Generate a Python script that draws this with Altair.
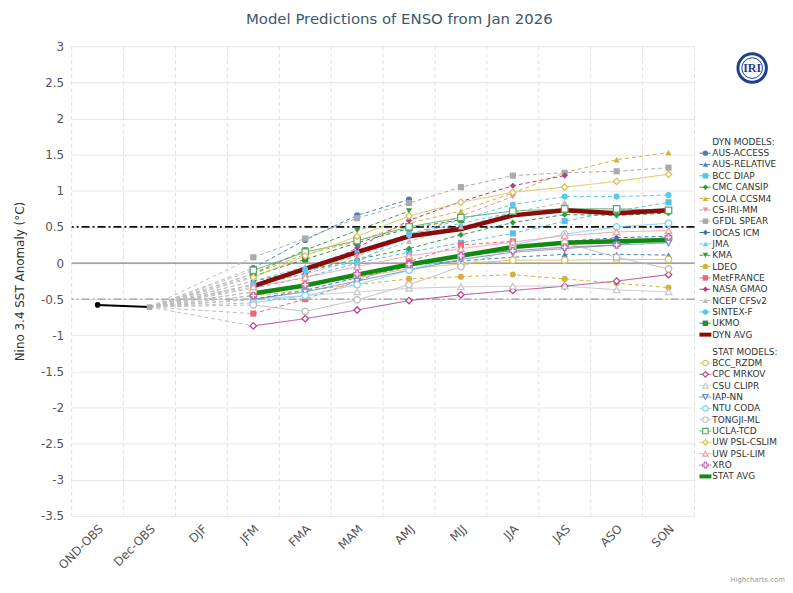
import altair as alt
import pandas as pd

seasons = ["OND-OBS", "Dec-OBS", "DJF", "JFM", "FMA", "MAM", "AMJ", "MJJ", "JJA", "JAS", "ASO", "SON"]
forecast_seasons = ["JFM", "FMA", "MAM", "AMJ", "MJJ", "JJA", "JAS", "ASO", "SON"]
obs_seasons = ["OND-OBS", "Dec-OBS"]
obs_values = [-0.58, -0.61]

# ---- dynamical models (JFM ... SON) ----
aus_access   = [-0.07, 0.32, 0.66, 0.88, None, None, None, None, None]
aus_relative = [-0.40, -0.30, -0.15, -0.03, 0.03, 0.08, 0.12, 0.12, 0.11]
bcc_diap     = [-0.35, -0.20, 0.00, 0.15, 0.28, 0.41, 0.58, 0.72, 0.84]
cmc_cansip   = [-0.25, -0.10, 0.05, 0.20, 0.39, 0.56, 0.67, 0.66, 0.69]
cola_ccsm4   = [-0.15, 0.12, 0.30, 0.55, 0.72, 0.97, 1.25, 1.43, 1.53]
cs_iri_mm    = [-0.30, -0.10, 0.10, 0.35, 0.65, 0.92, None, None, None]
gfdl_spear   = [0.08, 0.34, 0.62, 0.83, 1.05, 1.21, 1.25, 1.27, 1.32]
iocas_icm    = [-0.50, -0.38, -0.20, -0.05, 0.10, 0.22, 0.30, 0.35, 0.37]
jma          = [-0.25, -0.05, 0.18, 0.40, 0.55, 0.70, None, None, None]
kma          = [-0.15, 0.18, 0.45, 0.72, None, None, None, None, None]
ldeo         = [-0.45, -0.38, -0.30, -0.22, -0.19, -0.16, -0.22, -0.28, -0.34]
metfrance    = [-0.70, -0.50, -0.25, 0.02, 0.25, 0.30, None, None, None]
nasa_gmao    = [-0.30, -0.15, 0.21, 0.59, 0.85, 1.07, 1.21, None, None]
ncep_cfsv2   = [-0.30, -0.15, 0.05, 0.30, 0.50, 0.70, 0.84, None, None]
sintex_f     = [-0.30, -0.10, 0.01, 0.40, 0.60, 0.81, 0.92, 0.92, 0.94]
ukmo         = [-0.18, 0.05, 0.28, 0.48, 0.60, None, None, None, None]
dyn_avg      = [-0.32, -0.08, 0.15, 0.37, 0.47, 0.66, 0.73, 0.69, 0.73]

# ---- statistical models (JFM ... SON) ----
bcc_rzdm     = [-0.40, -0.30, -0.20, -0.08, -0.01, 0.04, 0.04, 0.05, 0.05]
cpc_mrkov    = [-0.87, -0.77, -0.65, -0.52, -0.44, -0.38, -0.32, -0.25, -0.16]
csu_clipr    = [-0.50, -0.45, -0.40, -0.35, -0.33, -0.32, -0.32, -0.37, -0.40]
iap_nn       = [-0.50, -0.40, -0.25, -0.10, 0.05, 0.15, 0.20, 0.25, 0.28]
ntu_coda     = [-0.55, -0.45, -0.30, -0.10, 0.10, 0.25, 0.40, 0.50, 0.55]
tongji_ml    = [-0.58, -0.67, -0.51, -0.30, -0.05, 0.20, 0.28, 0.08, -0.08]
ucla_tcd     = [-0.10, 0.15, 0.31, 0.50, 0.63, 0.72, 0.75, 0.75, 0.73]
uw_psl_cslim = [-0.20, 0.10, 0.37, 0.65, 0.84, 0.98, 1.05, 1.13, 1.23]
uw_psl_lim   = [-0.33, -0.20, -0.05, 0.10, 0.20, 0.29, 0.38, 0.43, 0.45]
xro          = [-0.45, -0.30, -0.15, -0.02, 0.10, 0.17, 0.22, 0.25, 0.36]
stat_avg     = [-0.42, -0.31, -0.16, -0.02, 0.10, 0.22, 0.28, 0.30, 0.32]

dyn_names = ["AUS-ACCESS", "AUS-RELATIVE", "BCC DIAP", "CMC CANSIP", "COLA CCSM4", "CS-IRI-MM",
             "GFDL SPEAR", "IOCAS ICM", "JMA", "KMA", "LDEO", "MetFRANCE", "NASA GMAO",
             "NCEP CFSv2", "SINTEX-F", "UKMO"]
dyn_series = [aus_access, aus_relative, bcc_diap, cmc_cansip, cola_ccsm4, cs_iri_mm, gfdl_spear,
              iocas_icm, jma, kma, ldeo, metfrance, nasa_gmao, ncep_cfsv2, sintex_f, ukmo]
stat_names = ["BCC_RZDM", "CPC MRKOV", "CSU CLIPR", "IAP-NN", "NTU CODA", "TONGJI-ML",
              "UCLA-TCD", "UW PSL-CSLIM", "UW PSL-LIM", "XRO"]
stat_series = [bcc_rzdm, cpc_mrkov, csu_clipr, iap_nn, ntu_coda, tongji_ml, ucla_tcd,
               uw_psl_cslim, uw_psl_lim, xro]

# ---- styles ----
dyn_colors = ["#4A7EBB", "#4A7EBB", "#56C1EA", "#2E9A3E", "#D1B43C", "#F28C9A", "#AAAAAA",
              "#3F6FB0", "#66CCF2", "#3A9A3A", "#D1B43C", "#EE6677", "#B03C8C", "#BDBDBD",
              "#5BC8F0", "#2E8B3A"]
dyn_shapes = ["circle", "triangle-up", "square", "diamond", "triangle-up", "triangle-down", "square",
              "diamond", "triangle-up", "triangle-down", "circle", "square", "diamond",
              "triangle-up", "circle", "square"]
stat_colors = ["#D9C25A", "#B8438F", "#C8C8C8", "#6A8FCF", "#7DD3F5", "#BBBBBB", "#5AAA6A",
               "#D9C25A", "#F4A0A8", "#C06FB0"]
stat_shapes = ["circle", "diamond", "triangle-up", "triangle-down", "circle", "circle", "square",
               "diamond", "triangle-up", "cross"]
DYN_AVG_COLOR = "#8B0A0A"
STAT_AVG_COLOR = "#108A10"

all_names = dyn_names + stat_names
all_colors = dyn_colors + stat_colors
all_shapes = dyn_shapes + stat_shapes

rows, conn = [], []
for group, names, series in (("DYN", dyn_names, dyn_series), ("STAT", stat_names, stat_series)):
    for name, vals in zip(names, series):
        for i, (s, v) in enumerate(zip(forecast_seasons, vals)):
            if v is not None:
                rows.append(dict(model=name, group=group, season=s, idx=i + 3, value=v))
        conn.append(dict(model=name, season="Dec-OBS", idx=1, value=obs_values[1]))
        conn.append(dict(model=name, season="JFM", idx=3, value=vals[0]))
df = pd.DataFrame(rows)
conn_df = pd.DataFrame(conn)


def series_df(vals):
    return pd.DataFrame(dict(season=forecast_seasons, value=vals, idx=list(range(3, 12))))


dyn_avg_df = series_df(dyn_avg)
stat_avg_df = series_df(stat_avg)
obs_df = pd.DataFrame(dict(season=obs_seasons, value=obs_values, idx=[0, 1]))

FONT = "DejaVu Sans"
xscale = alt.Scale(type="band", domain=seasons, paddingInner=0, paddingOuter=0)
yscale = alt.Scale(domain=[-3.5, 3], nice=False, zero=False)
yticks = [3, 2.5, 2, 1.5, 1, 0.5, 0, -0.5, -1, -1.5, -2, -2.5, -3, -3.5]
xaxis = alt.Axis(title=None, labelAngle=-45, labelFontSize=12, labelColor="#555", labelFont=FONT,
                 grid=False, ticks=False, domain=False, labelPadding=7)
yaxis = alt.Axis(title="Nino 3.4 SST Anomaly (°C)", values=yticks, labelExpr="'' + datum.value",
                 grid=True, gridColor="#e6e6e6", domain=False, ticks=False, labelFontSize=12,
                 labelColor="#555", labelFont=FONT, titleFont=FONT, titleFontSize=12,
                 titleFontWeight="normal", titleColor="#333", titlePadding=14, labelPadding=8)

X = alt.X("season:N", scale=xscale, axis=xaxis)
Y = alt.Y("value:Q", scale=yscale, axis=yaxis)
col = alt.Color("model:N", scale=alt.Scale(domain=all_names, range=all_colors), legend=None)
shp = alt.Shape("model:N", scale=alt.Scale(domain=all_names, range=all_shapes), legend=None)
dash = alt.StrokeDash("group:N", scale=alt.Scale(domain=["DYN", "STAT"], range=[[4, 3], [1, 0]]), legend=None)

# x-axis labels layer (first, so the axis is defined)
axis_df = pd.DataFrame(dict(season=seasons))
xaxis_layer = alt.Chart(axis_df).mark_tick(opacity=0).encode(x=X)

vgrid = alt.Chart(axis_df).mark_rule(color="#e0e0e0", strokeDash=[4, 3], strokeWidth=1).encode(
    x=alt.X("season:N", scale=xscale, bandPosition=0, axis=xaxis))
vgrid_end = alt.Chart(pd.DataFrame(dict(season=["SON"]))).mark_rule(
    color="#e0e0e0", strokeDash=[4, 3], strokeWidth=1).encode(
    x=alt.X("season:N", scale=xscale, bandPosition=1, axis=xaxis))

zero_line = alt.Chart(pd.DataFrame(dict(value=[0]))).mark_rule(color="#888888", strokeWidth=1.2).encode(y=Y)
el_line = alt.Chart(pd.DataFrame(dict(value=[0.5]))).mark_rule(
    color="#111111", strokeWidth=1.6, strokeDash=[8, 3, 2, 3]).encode(y=Y)
la_line = alt.Chart(pd.DataFrame(dict(value=[-0.5]))).mark_rule(
    color="#9a9a9a", strokeWidth=1.1, strokeDash=[8, 3, 2, 3]).encode(y=Y)

connectors = alt.Chart(conn_df).mark_line(color="#bdbdbd", strokeDash=[4, 3], strokeWidth=1).encode(
    x=X, y=Y, detail="model:N", order="idx:Q")

lines = alt.Chart(df).mark_line(strokeWidth=1).encode(
    x=X, y=Y, color=col, strokeDash=dash, detail="model:N", order="idx:Q")

dyn_avg_line = alt.Chart(dyn_avg_df).mark_line(strokeWidth=4.5, color=DYN_AVG_COLOR).encode(
    x=X, y=Y, order="idx:Q")
stat_avg_line = alt.Chart(stat_avg_df).mark_line(strokeWidth=4.5, color=STAT_AVG_COLOR).encode(
    x=X, y=Y, order="idx:Q")

dyn_pts = alt.Chart(df[df.group == "DYN"]).mark_point(filled=True, size=38, opacity=1).encode(
    x=X, y=Y, color=col, shape=shp)
stat_pts = alt.Chart(df[df.group == "STAT"]).mark_point(filled=False, fill="white", size=42,
                                                          strokeWidth=1.3, opacity=1).encode(
    x=X, y=Y, color=col, shape=shp)

obs_line = alt.Chart(obs_df).mark_line(color="black", strokeWidth=2).encode(x=X, y=Y, order="idx:Q")
obs_pt = alt.Chart(obs_df[obs_df.idx == 0]).mark_point(filled=True, color="black", size=32, opacity=1).encode(x=X, y=Y)
dec_pt = alt.Chart(obs_df[obs_df.idx == 1]).mark_point(filled=True, color="#aaaaaa", shape="square", size=32, opacity=1).encode(x=X, y=Y)

main = alt.layer(xaxis_layer, vgrid, vgrid_end, zero_line, el_line, la_line, connectors, lines,
                 dyn_avg_line, stat_avg_line, dyn_pts, stat_pts,
                 obs_line, obs_pt, dec_pt).properties(width=626, height=472)

# ---- manual legend panel ----
leg_rows = [dict(label="DYN MODELS:", row=0.0, kind="header", group="", model="")]
for k, n in enumerate(dyn_names):
    leg_rows.append(dict(label=n, row=1.0 + k, kind="item", group="DYN", model=n))
leg_rows.append(dict(label="DYN AVG", row=17.0, kind="avg", group="", model="DYN AVG"))
leg_rows.append(dict(label="STAT MODELS:", row=18.5, kind="header", group="", model=""))
for k, n in enumerate(stat_names):
    leg_rows.append(dict(label=n, row=19.5 + k, kind="item", group="STAT", model=n))
leg_rows.append(dict(label="STAT AVG", row=29.5, kind="avg", group="", model="STAT AVG"))
leg_df = pd.DataFrame(leg_rows)

ly = alt.Y("row:Q", scale=alt.Scale(domain=[-8.42, 32.98], reverse=True, nice=False, zero=False), axis=None)
leg_text = alt.Chart(leg_df).mark_text(align="left", baseline="middle", font=FONT, fontSize=9,
                                       color="#333").encode(x=alt.value(13), y=ly, text="label:N")
items = leg_df[leg_df.kind == "item"]
leg_lines = alt.Chart(items).mark_rule(strokeWidth=1).encode(
    x=alt.value(0), x2=alt.value(12), y=ly, color=col, strokeDash=dash)
leg_dyn = alt.Chart(items[items.group == "DYN"]).mark_point(filled=True, size=30, opacity=1).encode(
    x=alt.value(6), y=ly, color=col, shape=shp)
leg_stat = alt.Chart(items[items.group == "STAT"]).mark_point(filled=False, fill="white", size=30,
                                                             strokeWidth=1.2, opacity=1).encode(
    x=alt.value(6), y=ly, color=col, shape=shp)
leg_dyn_avg = alt.Chart(leg_df[leg_df.label == "DYN AVG"]).mark_rule(strokeWidth=4, color=DYN_AVG_COLOR).encode(
    x=alt.value(0), x2=alt.value(12), y=ly)
leg_stat_avg = alt.Chart(leg_df[leg_df.label == "STAT AVG"]).mark_rule(strokeWidth=4, color=STAT_AVG_COLOR).encode(
    x=alt.value(0), x2=alt.value(12), y=ly)

logo_df = pd.DataFrame(dict(row=[-6.5], label=["IRI"]))
logo_outer = alt.Chart(logo_df).mark_point(shape="circle", size=820, stroke="#1f3f8f", strokeWidth=3,
                                           filled=False, opacity=1).encode(x=alt.value(53), y=ly)
logo_inner = alt.Chart(logo_df).mark_point(shape="circle", size=430, stroke="#1f3f8f", strokeWidth=1,
                                           filled=False, opacity=1).encode(x=alt.value(53), y=ly)
logo_text = alt.Chart(logo_df).mark_text(font="Liberation Serif", fontSize=12, fontWeight="bold",
                                         color="#1f3f8f").encode(x=alt.value(53), y=ly, text="label:N")

credit_df = pd.DataFrame(dict(row=[38.6], label=["Highcharts.com"]))
credit = alt.Chart(credit_df).mark_text(font=FONT, fontSize=7, color="#999999", align="right",
                                        baseline="middle").encode(x=alt.value(86), y=ly, text="label:N")

legend_panel = alt.layer(leg_lines, leg_dyn_avg, leg_stat_avg, leg_dyn, leg_stat, leg_text,
                         logo_outer, logo_inner, logo_text, credit).properties(width=82, height=472)

chart = alt.hconcat(main, legend_panel, spacing=2).properties(
    title=alt.Title("Model Predictions of ENSO from Jan 2026", font=FONT, fontSize=15,
                    fontWeight="normal", color="#3E576F", anchor="middle", offset=13),
    padding={"left": 5, "top": 3, "right": 0, "bottom": 5},
).resolve_scale(color="independent", shape="independent", strokeDash="independent", y="independent").configure_view(stroke=None)

chart.save("out.html", embed_options={"renderer": "svg", "actions": False})
